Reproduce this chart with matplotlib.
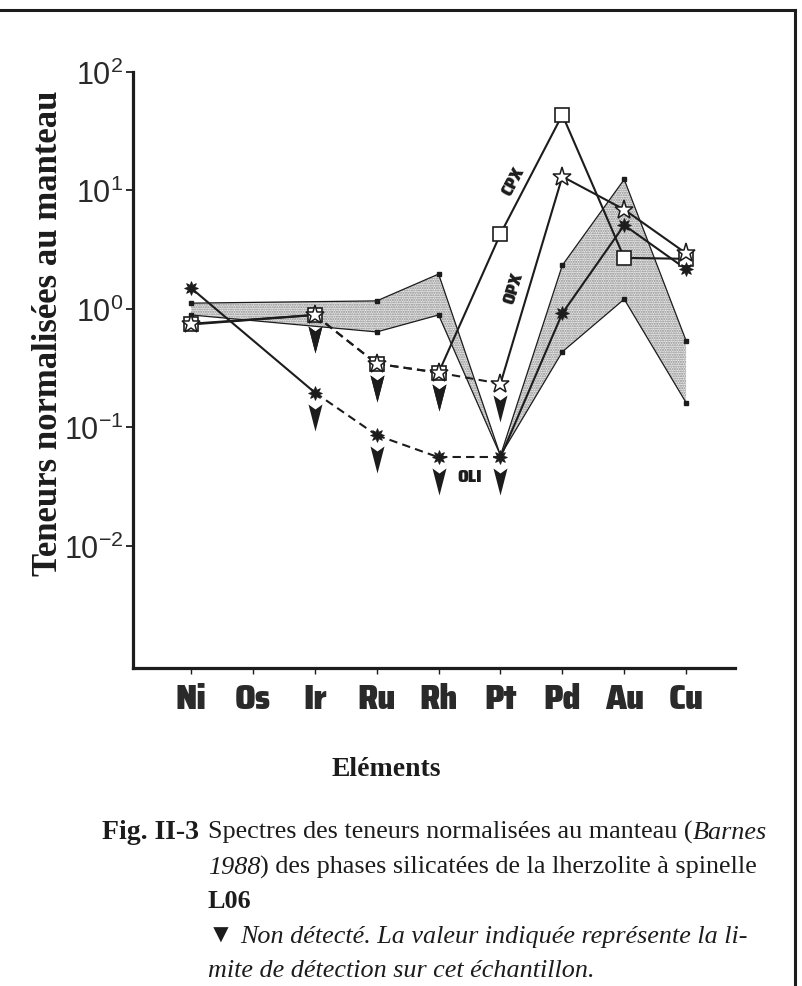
import numpy as np
import matplotlib
matplotlib.use("Agg")  # no display
import matplotlib.pyplot as plt
from matplotlib.path import Path
from matplotlib.lines import Line2D
from matplotlib.ticker import NullLocator
from matplotlib import font_manager as fm

# ---- data (mantle-normalised contents) ----
elements = ["Ni", "Os", "Ir", "Ru", "Rh", "Pt", "Pd", "Au", "Cu"]
nan = np.nan
cpx = [0.75, nan, 0.89, 0.345, 0.29, 4.3, 43.5, 2.7, 2.65]
cpx_nd = [False, False, True, True, True, False, False, False, False]
opx = [0.74, nan, 0.89, 0.345, 0.29, 0.234, 13.1, 6.9, 2.95]
opx_nd = [False, False, True, True, True, True, False, False, False]
oli = [1.5, nan, 0.197, 0.086, 0.056, 0.056, 0.92, 5.1, 2.17]
oli_nd = [False, False, True, True, True, True, False, False, False]
band_hi = [1.12, nan, nan, 1.17, 1.97, 0.058, 2.34, 12.4, 0.54]
band_lo = [0.89, nan, nan, 0.64, 0.89, 0.058, 0.435, 1.21, 0.162]
ytick_vals = [1e-2, 1e-1, 1e0, 1e1, 1e2]
ytick_labels = [r"$10^{-2}$", r"$10^{-1}$", r"$10^{0}$", r"$10^{1}$", r"$10^{2}$"]

ink = "#1c1c1c"


def _w(f):
    w = f.weight
    return fm.weight_dict.get(w, 400) if isinstance(w, str) else int(w)


def condensed_props(size):
    # heaviest narrow/condensed sans face that is installed; else Roboto black
    cands = []
    for f in fm.fontManager.ttflist:
        n = f.name
        narrow = ("Narrow" in n or "Condensed" in n or
                  f.stretch in ("condensed", "semi-condensed", "extra-condensed"))
        if narrow and "Mono" not in n and "Serif" not in n and f.style == "normal":
            cands.append((_w(f), f.fname))
    cands.sort(reverse=True)
    if cands and cands[0][0] >= 600:
        return fm.FontProperties(fname=cands[0][1], size=size)
    return fm.FontProperties(family="Roboto", weight="black", size=size)


plt.rcParams["mathtext.fontset"] = "custom"
plt.rcParams["mathtext.rm"] = "Liberation Sans"
plt.rcParams["mathtext.it"] = "Liberation Sans"
plt.rcParams["hatch.linewidth"] = 1.0
plt.rcParams["hatch.color"] = "#808080"

fig = plt.figure(figsize=(8.02, 9.86), dpi=100)
ax = fig.add_axes([0.1658, 0.3225, 0.7506, 0.6045])
x = np.arange(len(elements))

# shaded range
bx = [i for i in x if not np.isnan(band_hi[i])]
hi = [band_hi[i] for i in bx]
lo = [band_lo[i] for i in bx]
ax.fill(bx + bx[::-1], hi + lo[::-1], facecolor="#e9e9e9", edgecolor="#8a8a8a",
        hatch=".......", lw=0, zorder=1)
for arr in (hi, lo):
    ax.plot(bx, arr, color=ink, lw=0.9, marker="s", ms=3, mfc=ink, mec=ink, zorder=2)

# non-detected arrow marker (sits below the point)
arrow = Path([(-7, -11), (0, -16), (7, -11), (0, -38), (-7, -11)],
             [Path.MOVETO, Path.LINETO, Path.LINETO, Path.LINETO, Path.CLOSEPOLY])


def draw_series(vals, nd, **mk):
    v = np.array(vals, float)
    idx = [i for i in range(len(v)) if not np.isnan(v[i])]
    for a, b in zip(idx[:-1], idx[1:]):
        dashed = nd[a] and nd[b]
        ln, = ax.plot([x[a], x[b]], [v[a], v[b]], color=ink, lw=1.5, zorder=3,
                      ls="--" if dashed else "-")
        if dashed:
            ln.set_dashes((4, 2.5))
    ndm = np.array(nd)
    ax.plot(x[ndm], v[ndm], ls="none", marker=arrow, ms=54.7, mfc=ink,
            mec="none", zorder=4)
    ax.plot(x, v, ls="none", zorder=5, **mk)


draw_series(cpx, cpx_nd, marker="s", ms=10, mfc="white", mec=ink, mew=1.2)
draw_series(opx, opx_nd, marker="*", ms=14, mfc="white", mec=ink, mew=1.1)
draw_series(oli, oli_nd, marker=(8, 1, 0), ms=10, mfc=ink, mec=ink, mew=0.6)

small = condensed_props(13)
lab = dict(fontproperties=small, color=ink, ha="center", va="center")
ax.text(5.2, 11.9, "CPX", rotation=62, **lab)
ax.text(5.2, 1.5, "OPX", rotation=73, **lab)
ax.text(4.51, 0.038, "OLI", **lab)

# axes styling
ax.set_yscale("log")
ax.set_ylim(10 ** -3.03, 1e2)
ax.set_xlim(-0.94, 8.79)
ax.set_yticks(ytick_vals)
ax.set_yticklabels(ytick_labels, fontsize=22, color="#2a2a2a")
ax.yaxis.set_minor_locator(NullLocator())
ax.set_xticks(x)
ax.set_xticklabels(elements, fontproperties=condensed_props(25), color="#2a2a2a")
ax.tick_params(axis="y", direction="out", length=5, width=1.3, pad=2, color=ink)
ax.tick_params(axis="x", direction="out", length=4.5, width=1.0, pad=6, color=ink)
for s in ("top", "right"):
    ax.spines[s].set_visible(False)
for s in ("left", "bottom"):
    ax.spines[s].set_linewidth(2.3)
    ax.spines[s].set_color(ink)

fig.text(0.060, 0.662, "Teneurs normalisées au manteau", rotation=90,
         family="Liberation Serif", fontweight="bold", fontsize=25,
         ha="center", va="center", color=ink)
fig.text(386 / 802, 1 - 770 / 986, "Eléments", family="Liberation Serif",
         fontweight="bold", fontsize=20, ha="center", va="center", color=ink)

# caption, drawn piece by piece
renderer = fig.canvas.get_renderer()


def put_line(x0, ybase, pieces, size=18.8):
    xpos = x0
    for txt, style in pieces:
        kw = dict(family=["Liberation Serif", "DejaVu Sans"], fontsize=size, color=ink,
                  va="baseline", ha="left")
        if style == "i":
            kw["style"] = "italic"
        elif style == "b":
            kw["fontweight"] = "bold"
        t = fig.text(xpos / 802, 1 - ybase / 986, txt, **kw)
        bb = t.get_window_extent(renderer)
        xpos += bb.width


fig.text(102 / 802, 1 - 839 / 986, "Fig. II-3", family="Liberation Serif",
         fontweight="bold", fontsize=20, color=ink, va="baseline")
put_line(208, 839, [("Spectres des teneurs normalisées au manteau (", "r"), ("Barnes", "i")])
put_line(208, 874, [("1988", "i"), (") des phases silicatées de la lherzolite à spinelle", "r")])
put_line(208, 908, [("L06", "b")])
put_line(208, 943, [("▼ ", "r"), ("Non détecté. La valeur indiquée représente la li-", "i")])
put_line(208, 977, [("mite de détection sur cet échantillon.", "i")])

# page frame
fig.add_artist(Line2D([0, 795 / 802], [1 - 10 / 986] * 2, transform=fig.transFigure,
                      lw=2.2, color=ink))
fig.add_artist(Line2D([795 / 802] * 2, [0, 1 - 10 / 986], transform=fig.transFigure,
                      lw=2.2, color=ink))

fig.savefig("out.png", dpi=100)
